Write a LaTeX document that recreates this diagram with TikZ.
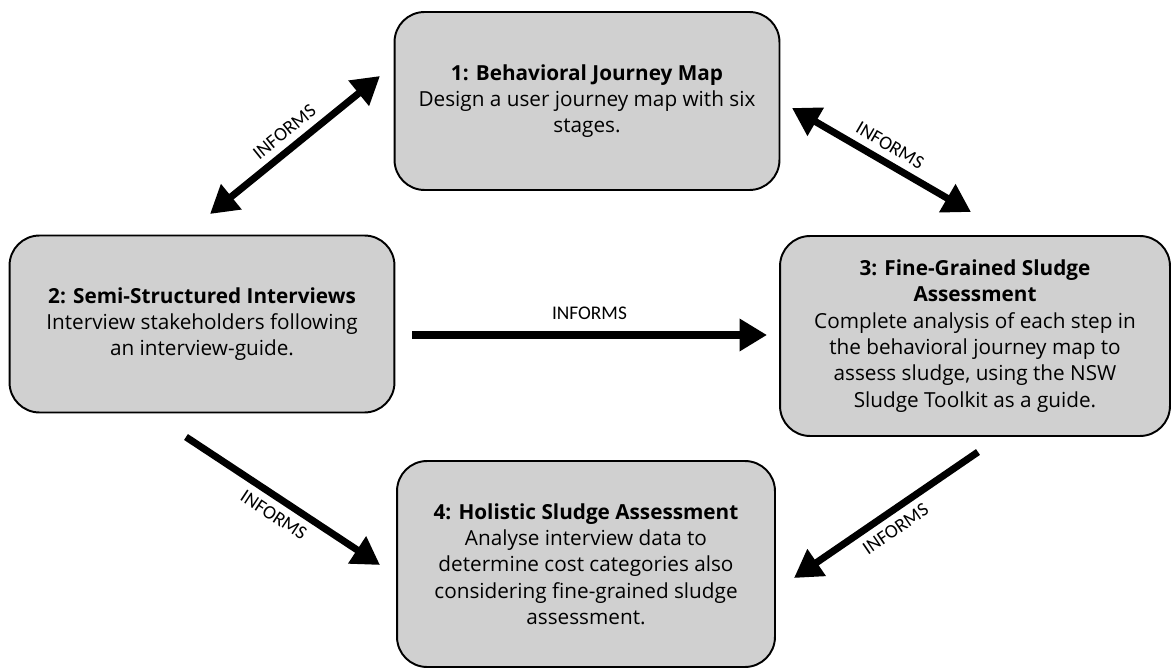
\documentclass[tikz,border=0pt]{standalone}
\usepackage{fontspec}
\setmainfont{Open Sans}
\newfontfamily\lblfont{Carlito}
\usetikzlibrary{arrows.meta, positioning}
\definecolor{boxgray}{HTML}{D0D0D0}
\tikzstyle{every step} = []
\tikzstyle{every informs} = []
\tikzstyle{stepbox} = [rectangle, draw, black, fill=boxgray, line width=1.1pt,
                      rounded corners=0.6cm, align=center, font=\fontsize{11.8}{15}\selectfont, every step]
\tikzstyle{informs} = [-{Triangle[length=0.55cm,width=0.62cm]}, line width=4pt, every informs]
\tikzstyle{both informs} = [{Triangle[length=0.55cm,width=0.62cm]}-{Triangle[length=0.55cm,width=0.62cm]}, line width=4pt, every informs]
\tikzstyle{lbl} = [font=\lblfont\fontsize{11}{13}\selectfont, sloped, inner sep=4pt]

\begin{document}
\begin{tikzpicture}[x=0.02cm, y=-0.02cm]
\useasboundingbox (0,0) rectangle (1171,669);
%Nodes
\node[stepbox, minimum width=7.7cm, minimum height=3.56cm] (journey) at (587,101)
  {\textbf{1: Behavioral Journey Map}\\Design a user journey map with six\\stages.};
\node[stepbox, minimum width=7.7cm, minimum height=3.54cm] (interviews) at (202,324)
  {\textbf{2: Semi-Structured Interviews}\\Interview stakeholders following\\an interview-guide.};
\node[stepbox, minimum width=7.8cm, minimum height=4.0cm] (fine) at (975,336)
  {\textbf{3: Fine-Grained Sludge}\\\textbf{Assessment}\\Complete analysis of each step in\\the behavioral journey map to\\assess sludge, using the NSW\\Sludge Toolkit as a guide.};
\node[stepbox, minimum width=7.56cm, minimum height=4.12cm] (holistic) at (586,564)
  {\textbf{4: Holistic Sludge Assessment}\\Analyse interview data to\\determine cost categories also\\considering fine-grained sludge\\assessment.};

%Arrow ends
\coordinate (a12s) at (210,214);
\coordinate (a12e) at (380,76);
\coordinate (a13s) at (792,108);
\coordinate (a13e) at (971,212);
\coordinate (a23s) at (412,335);
\coordinate (a23e) at (767,335);
\coordinate (a24s) at (186,437);
\coordinate (a24e) at (380,565);
\coordinate (a34s) at (978,452);
\coordinate (a34e) at (794,578);

%Lines
\draw[both informs] (a12s) -- node[lbl, above] {INFORMS} (a12e);
\draw[both informs] (a13s) -- node[lbl, above] {INFORMS} (a13e);
\draw[informs] (a23s) -- node[lbl, above, inner sep=7pt] {INFORMS} (a23e);
\draw[informs] (a24s) -- node[lbl, below] {INFORMS} (a24e);
\draw[informs] (a34s) -- node[lbl, below] {INFORMS} (a34e);
\end{tikzpicture}
\end{document}
